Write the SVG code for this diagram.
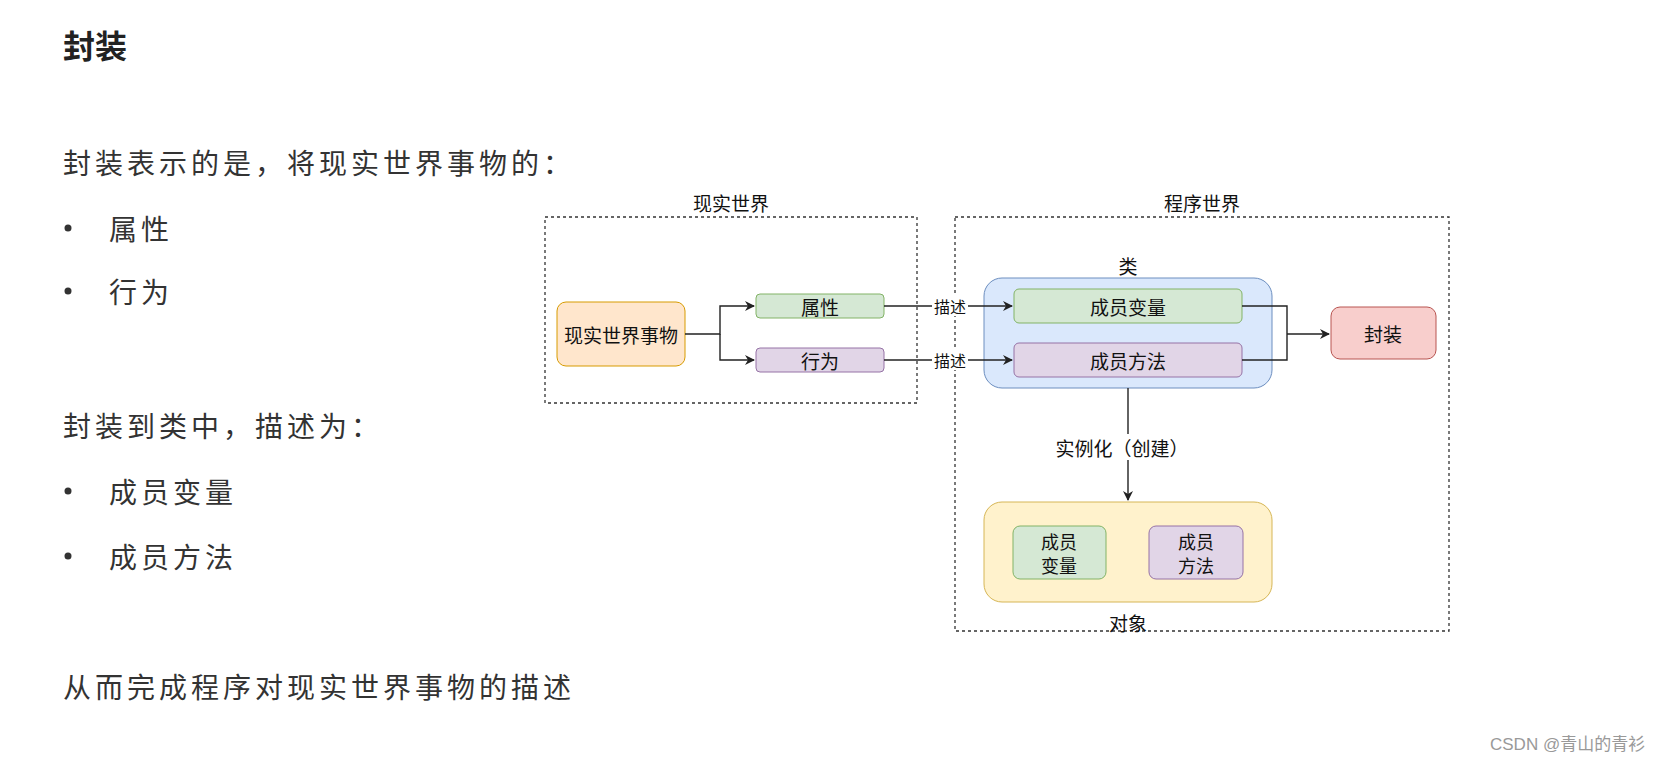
<svg xmlns="http://www.w3.org/2000/svg" width="1676" height="764" viewBox="0 0 1676 764">
<style>
.body{font-family:"Noto Sans CJK SC","Noto Sans",sans-serif;font-size:28px;fill:#333;letter-spacing:4px;dominant-baseline:central}
.t{font-family:"Noto Sans CJK SC","Noto Sans",sans-serif;font-size:19px;fill:#111;text-anchor:middle;dominant-baseline:central}
.s{font-size:16px}
.o{font-size:18px}
.dash{fill:none;stroke:#333;stroke-width:1.3;stroke-dasharray:3 3}
.ln{fill:none;stroke:#222;stroke-width:1.4}
.or{fill:#ffe6cc;stroke:#d79b00}.gr{fill:#d5e8d4;stroke:#82b366}.pu{fill:#e1d5e7;stroke:#9673a6}
.bl{fill:#dae8fc;stroke:#6c8ebf}.rd{fill:#f8cecc;stroke:#b85450}.ye{fill:#fff2cc;stroke:#d6b656}
</style>
<defs><marker id="a" markerWidth="10" markerHeight="10" refX="9" refY="5" orient="auto" markerUnits="userSpaceOnUse"><path d="M0,0 L10,5 L0,10 L3,5 z" fill="#222"/></marker></defs>
<rect width="1676" height="764" fill="#fff"/>
<text x="63" y="44" style="font-family:'Noto Sans CJK SC',sans-serif;font-size:32px;font-weight:bold;fill:#222;dominant-baseline:central">封装</text>
<text class="body" x="63" y="162">封装表示的是，将现实世界事物的：</text>
<circle cx="68" cy="228" r="3.5" fill="#333"/><text class="body" x="109" y="228">属性</text>
<circle cx="68" cy="291" r="3.5" fill="#333"/><text class="body" x="109" y="291">行为</text>
<text class="body" x="63" y="425">封装到类中，描述为：</text>
<circle cx="68" cy="491" r="3.5" fill="#333"/><text class="body" x="109" y="491">成员变量</text>
<circle cx="68" cy="556" r="3.5" fill="#333"/><text class="body" x="109" y="556">成员方法</text>
<text class="body" x="63" y="686">从而完成程序对现实世界事物的描述</text>
<g id="real-world"><rect class="dash" x="545" y="217" width="372" height="186"/><text class="t" x="731" y="202">现实世界</text></g>
<g id="program-world"><rect class="dash" x="955" y="217" width="494" height="414"/><text class="t" x="1202" y="202">程序世界</text></g>
<g id="thing"><rect class="or" x="557" y="302" width="128" height="64" rx="9"/><text class="t" x="621" y="334">现实世界事物</text></g>
<g id="attr"><rect class="gr" x="756" y="294" width="128" height="24" rx="4"/><text class="t" x="820" y="306">属性</text></g>
<g id="behav"><rect class="pu" x="756" y="348" width="128" height="24" rx="4"/><text class="t" x="820" y="360">行为</text></g>
<g id="class"><rect class="bl" x="984" y="278" width="288" height="110" rx="18"/><text class="t" x="1128" y="265">类</text></g>
<g id="mvar"><rect class="gr" x="1014" y="289" width="228" height="34" rx="5"/><text class="t" x="1128" y="306">成员变量</text></g>
<g id="mmeth"><rect class="pu" x="1014" y="343" width="228" height="34" rx="5"/><text class="t" x="1128" y="360">成员方法</text></g>
<g id="encap"><rect class="rd" x="1331" y="307" width="105" height="52" rx="9"/><text class="t" x="1383" y="333">封装</text></g>
<g id="object"><rect class="ye" x="984" y="502" width="288" height="100" rx="18"/><text class="t" x="1128" y="622">对象</text></g>
<g id="ovar"><rect class="gr" x="1013" y="526" width="93" height="53" rx="7"/><text class="t o" x="1059" y="541">成员</text><text class="t o" x="1059" y="565">变量</text></g>
<g id="ometh"><rect class="pu" x="1149" y="526" width="94" height="53" rx="7"/><text class="t o" x="1196" y="541">成员</text><text class="t o" x="1196" y="565">方法</text></g>
<g id="connectors">
<path class="ln" d="M685,334 H720 V306 H754" marker-end="url(#a)"/>
<path class="ln" d="M720,334 V360 H754" marker-end="url(#a)"/>
<path class="ln" d="M884,306 H1012" marker-end="url(#a)"/>
<path class="ln" d="M884,360 H1012" marker-end="url(#a)"/>
<rect x="932" y="296" width="36" height="20" fill="#fff"/><text class="t s" x="950" y="306">描述</text>
<rect x="932" y="350" width="36" height="20" fill="#fff"/><text class="t s" x="950" y="360">描述</text>
<path class="ln" d="M1242,306 H1287 V360 H1242"/>
<path class="ln" d="M1287,334 H1329" marker-end="url(#a)"/>
<path class="ln" d="M1128,388 V500" marker-end="url(#a)"/>
<rect x="1058" y="434" width="140" height="26" fill="#fff"/><text class="t" x="1122" y="447">实例化（创建）</text>
</g>
<text x="1490" y="750" style="font-family:'Liberation Sans','Noto Sans CJK SC',sans-serif;font-size:17px;fill:#999">CSDN @青山的青衫</text>
</svg>
